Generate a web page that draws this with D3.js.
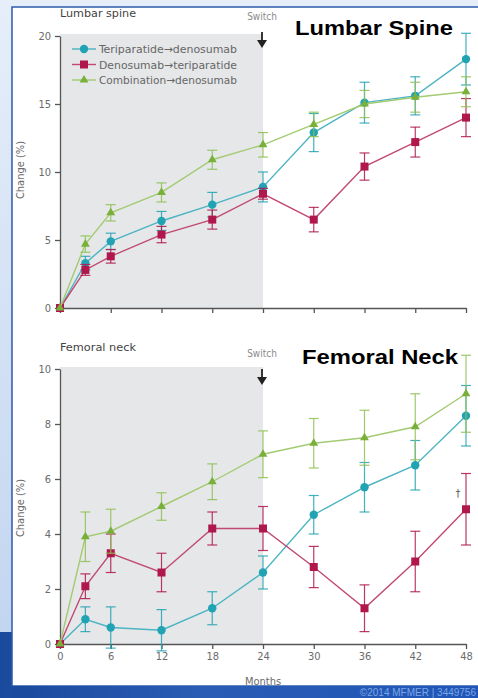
<!DOCTYPE html>
<html><head><meta charset="utf-8">
<script src="https://cdn.jsdelivr.net/npm/d3@7"></script>
<style>html,body{margin:0;padding:0;background:#fff;}svg{display:block;}</style>
</head><body>
<svg id="c" width="478" height="698"></svg>
<script>
// ---- data ----
const months = [0, 3, 6, 12, 18, 24, 30, 36, 42, 48];
const monthTicks = [0, 6, 12, 18, 24, 30, 36, 42, 48];
const lumbarTicks = [0, 5, 10, 15, 20];
const femoralTicks = [0, 2, 4, 6, 8, 10];
const seriesNames = ["Teriparatide\u2192denosumab", "Denosumab\u2192teriparatide", "Combination\u2192denosumab"];

const lumbarTeri    = [0, 3.3, 4.9, 6.4, 7.6, 8.9, 12.9, 15.1, 15.6, 18.3];
const lumbarTeriErr = [0, 0.5, 0.6, 0.7, 0.9, 1.1, 1.4, 1.5, 1.4, 1.9];
const lumbarDeno    = [0, 2.8, 3.8, 5.4, 6.5, 8.4, 6.5, 10.4, 12.2, 14.0];
const lumbarDenoErr = [0, 0.4, 0.5, 0.6, 0.7, 0.4, 0.9, 1.0, 1.1, 1.4];
const lumbarComb    = [0, 4.7, 7.0, 8.5, 10.9, 12.0, 13.5, 15.0, 15.5, 15.9];
const lumbarCombErr = [0, 0.6, 0.6, 0.7, 0.7, 0.9, 0.9, 1.0, 1.1, 1.1];

const femTeri    = [0, 0.9, 0.6, 0.5, 1.3, 2.6, 4.7, 5.7, 6.5, 8.3];
const femTeriErr = [0, 0.45, 0.75, 0.75, 0.6, 0.6, 0.7, 0.9, 0.9, 1.1];
const femDeno    = [0, 2.1, 3.3, 2.6, 4.2, 4.2, 2.8, 1.3, 3.0, 4.9];
const femDenoErr = [0, 0.45, 0.7, 0.7, 0.6, 0.8, 0.75, 0.85, 1.1, 1.3];
const femComb    = [0, 3.9, 4.1, 5.0, 5.9, 6.9, 7.3, 7.5, 7.9, 9.1];
const femCombErr = [0, 0.9, 0.8, 0.5, 0.65, 0.85, 0.9, 1.0, 1.2, 1.4];

// ---- styles ----
const colors = ["#22a3b4", "#b0174c", "#8fc152"];
const lineColors = ["#4cb4c2", "#c04a70", "#a3cb72"];
const small = "'DejaVu Sans Condensed', 'Liberation Sans', Arial, sans-serif";
const grey = "#6b6b6b";

const svg = d3.select("#c");
const defs = svg.append("defs");
const lg = defs.append("linearGradient").attr("id","bgL").attr("x1",0).attr("y1",0).attr("x2",0).attr("y2",1);
lg.append("stop").attr("offset","0%").attr("stop-color","#e6eefa");
lg.append("stop").attr("offset","100%").attr("stop-color","#bfd3ef");
const dg = defs.append("linearGradient").attr("id","bgD").attr("x1",0).attr("y1",0).attr("x2",1).attr("y2",0);
dg.append("stop").attr("offset","0%").attr("stop-color","#1a4a9e");
dg.append("stop").attr("offset","40%").attr("stop-color","#2a5cb4");
dg.append("stop").attr("offset","100%").attr("stop-color","#1f56b8");

// background slide
svg.append("rect").attr("x",0).attr("y",0).attr("width",478).attr("height",698).attr("fill","url(#bgL)");
svg.append("rect").attr("x",0).attr("y",632).attr("width",478).attr("height",66).attr("fill","url(#bgD)");
// white panel
svg.append("rect").attr("x",12).attr("y",7).attr("width",470).attr("height",679)
  .attr("fill","#fff").attr("stroke","#2c5bab").attr("stroke-width",1.5);

const x = d3.scaleLinear().domain([0, 48]).range([60, 466]);

function panel(cfg) {
  const g = svg.append("g");
  const y = cfg.y;
  const [y0, y1] = y.range();
  // shaded pre-switch region
  g.append("rect").attr("x", x(0)).attr("y", y1 - 2).attr("width", x(24) - x(0)).attr("height", y0 - y1 + 2)
    .attr("fill", "#e5e7e9");
  // axes
  const ya = g.append("g").attr("transform", `translate(${x(0)},0)`)
    .call(d3.axisLeft(y).tickValues(cfg.ticks).tickSize(5).tickSizeOuter(0).tickPadding(4));
  const xa = g.append("g").attr("transform", `translate(0,${y0})`)
    .call(d3.axisBottom(x).tickValues(monthTicks).tickSize(5).tickSizeOuter(0).tickPadding(3)
      .tickFormat(cfg.xLabels ? d3.format("d") : ""));
  [ya, xa].forEach(a => {
    a.selectAll("path,line").attr("stroke", "#555").attr("stroke-width", 1.3);
    a.selectAll("text").attr("fill", grey).attr("font-family", small).attr("font-size", 11);
  });
  // panel label
  g.append("text").attr("x", 60).attr("y", cfg.labelY).text(cfg.label)
    .attr("font-family", small).attr("font-size", 11).attr("fill", "#444")
    .attr("textLength", 76).attr("lengthAdjust", "spacingAndGlyphs");
  // y title
  g.append("text").attr("transform", `translate(24,${cfg.titleY}) rotate(-90)`).attr("text-anchor","middle")
    .text("Change (%)").attr("font-family", small).attr("font-size", 11).attr("fill", grey);
  // switch
  g.append("text").attr("x", 262).attr("y", cfg.switchY).attr("text-anchor","middle").text("Switch")
    .attr("font-family", small).attr("font-size", 10).attr("fill", "#8a8a8a");
  const ay = cfg.switchY + 12;
  g.append("line").attr("x1", 262).attr("x2", 262).attr("y1", ay).attr("y2", ay + 10).attr("stroke","#222").attr("stroke-width",1.8);
  g.append("path").attr("d", `M${262-5},${ay+8}L${262+5},${ay+8}L262,${ay+16}Z`).attr("fill","#222");
  // big overlay label
  g.append("text").attr("x", cfg.bigX).attr("y", cfg.bigY).text(cfg.big)
    .attr("font-family", "'Liberation Sans', Arial, sans-serif").attr("font-weight","bold")
    .attr("font-size", 21).attr("fill", "#000")
    .attr("textLength", cfg.bigW).attr("lengthAdjust", "spacingAndGlyphs");

  const line = d3.line().x((d, i) => x(months[i])).y(d => y(d));
  cfg.series.forEach((s, k) => {
    const sg = g.append("g");
    sg.append("path").datum(s.v).attr("d", line).attr("fill", "none")
      .attr("stroke", lineColors[k]).attr("stroke-width", 1.4);
    s.v.forEach((v, i) => {
      const e = s.e[i];
      if (e > 0) {
        const cx = x(months[i]);
        sg.append("line").attr("x1", cx).attr("x2", cx).attr("y1", y(v - e)).attr("y2", y(v + e))
          .attr("stroke", colors[k]).attr("stroke-width", 1.2).attr("opacity", 0.85);
        [v - e, v + e].forEach(t => sg.append("line").attr("x1", cx - 5).attr("x2", cx + 5)
          .attr("y1", y(t)).attr("y2", y(t)).attr("stroke", colors[k]).attr("stroke-width", 1.2).attr("opacity", 0.85));
      }
    });
    s.v.forEach((v, i) => marker(sg, k, x(months[i]), y(v)));
  });
}

function marker(g, k, px, py) {
  if (k === 0) g.append("circle").attr("cx", px).attr("cy", py).attr("r", 4.2).attr("fill", colors[0]);
  else if (k === 1) g.append("rect").attr("x", px - 4).attr("y", py - 4).attr("width", 8).attr("height", 8).attr("fill", colors[1]);
  else g.append("path").attr("d", d3.symbol(d3.symbolTriangle, 34)()).attr("transform", `translate(${px},${py})`).attr("fill", "#78b03a");
}

panel({
  y: d3.scaleLinear().domain([0, 20]).range([308, 36]),
  ticks: lumbarTicks, xLabels: false,
  label: "Lumbar spine", labelY: 17, titleY: 170, switchY: 20,
  big: "Lumbar Spine", bigX: 295, bigY: 35, bigW: 158,
  series: [{v: lumbarTeri, e: lumbarTeriErr}, {v: lumbarDeno, e: lumbarDenoErr}, {v: lumbarComb, e: lumbarCombErr}]
});
panel({
  y: d3.scaleLinear().domain([0, 10]).range([644, 369]),
  ticks: femoralTicks, xLabels: true,
  label: "Femoral neck", labelY: 351, titleY: 508, switchY: 357,
  big: "Femoral Neck", bigX: 302, bigY: 364, bigW: 156,
  series: [{v: femTeri, e: femTeriErr}, {v: femDeno, e: femDenoErr}, {v: femComb, e: femCombErr}]
});

// dagger
svg.append("text").attr("x", 458).attr("y", 497).attr("text-anchor","middle").text("\u2020")
  .attr("font-family", small).attr("font-size", 11).attr("fill", "#555");

// legend
const leg = svg.append("g");
seriesNames.forEach((n, k) => {
  const ly = 49 + k * 15.5;
  leg.append("line").attr("x1", 72).attr("x2", 96).attr("y1", ly).attr("y2", ly).attr("stroke", lineColors[k]).attr("stroke-width", 1.4);
  marker(leg, k, 84, ly);
  leg.append("text").attr("x", 99).attr("y", ly + 4).text(n)
    .attr("font-family", small).attr("font-size", 11).attr("fill", "#666")
    .attr("textLength", 138).attr("lengthAdjust", "spacingAndGlyphs");
});

// x title
svg.append("text").attr("x", 263).attr("y", 685).attr("text-anchor","middle").text("Months")
  .attr("font-family", small).attr("font-size", 11).attr("fill", grey);

// bottom band over panel bottom edge
svg.append("rect").attr("x", 12).attr("y", 686).attr("width", 466).attr("height", 12).attr("fill", "url(#bgD)");
svg.append("text").attr("x", 476).attr("y", 696).attr("text-anchor","end").text("\u00a92014 MFMER  |  3449756")
  .attr("font-family", "'Liberation Sans', Arial, sans-serif").attr("font-size", 10).attr("fill", "#7ea6e6");
</script>
</body></html>
